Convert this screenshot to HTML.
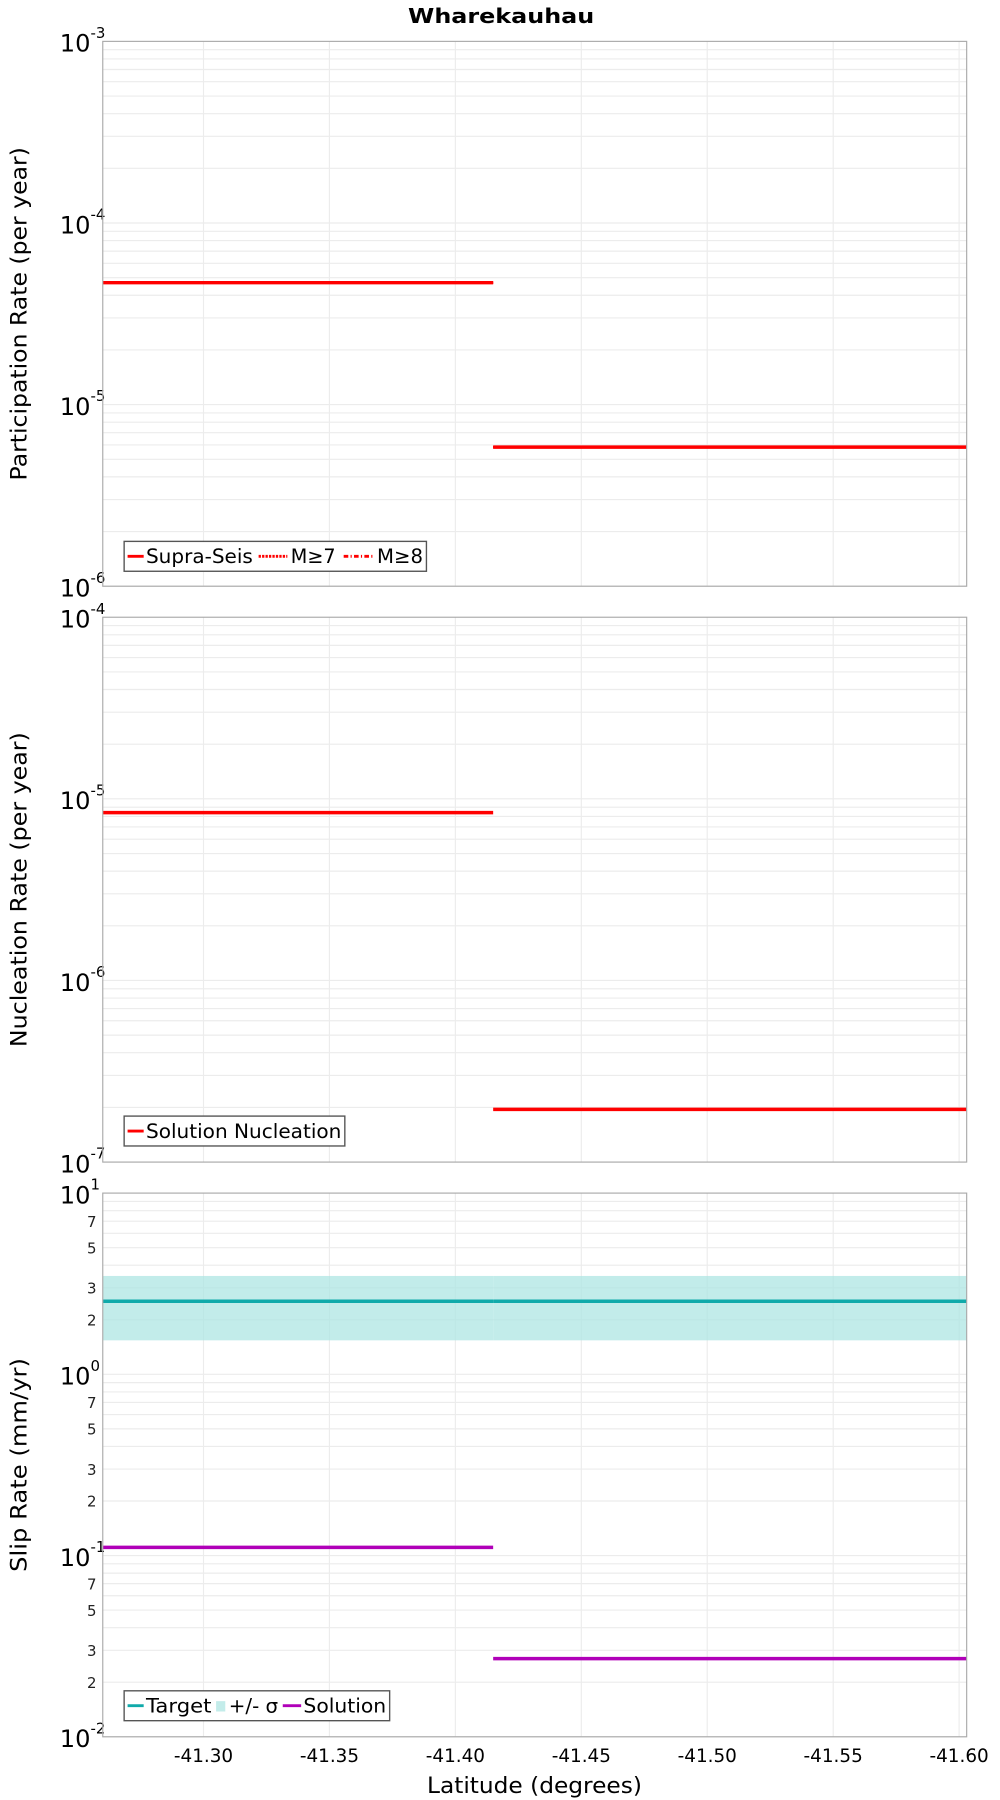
<!DOCTYPE html>
<html><head><meta charset="utf-8"><style>
html,body{margin:0;padding:0;background:#fff;}
svg{display:block;font-family:"DejaVu Sans","Liberation Sans",sans-serif;}
</style></head><body>
<svg id="chart" width="1000" height="1800" viewBox="0 0 870 1566" xmlns="http://www.w3.org/2000/svg">
<text x="436" y="20" text-anchor="middle" font-weight="bold" font-size="18" textLength="162" lengthAdjust="spacingAndGlyphs">Wharekauhau</text>
<g id="root"></g>
</svg>
<script>
// x ticks
const xTicks = [-41.30, -41.35, -41.40, -41.45, -41.50, -41.55, -41.60];
const xTickLabels = ["-41.30", "-41.35", "-41.40", "-41.45", "-41.50", "-41.55", "-41.60"];
// section boundaries (latitude)
const segStarts = [-41.26, -41.415];
const segEnds = [-41.415, -41.603];
// panel 1 participation
const suprSeis = [4.69e-5, 5.83e-6];
const m7 = [4.69e-5, 5.83e-6];
const m8 = [4.69e-5, 5.83e-6];
// panel 2 nucleation
const nucleation = [8.4e-6, 1.95e-7];
// panel 3 slip
const targetSlip = [2.53, 2.53];
const sigmaLow = [1.54, 1.54];
const sigmaHigh = [3.49, 3.49];
const solutionSlip = [0.111, 0.027];

const NS = "http://www.w3.org/2000/svg";
const root = document.getElementById('root');
const X0 = 89.4, X1 = 841, LAT0 = -41.26, LAT1 = -41.603;
function xs(v){ return X0 + (v - LAT0) / (LAT1 - LAT0) * (X1 - X0); }
function mk(tag, attrs, parent){
  const e = document.createElementNS(NS, tag);
  for (const k in attrs) e.setAttribute(k, attrs[k]);
  (parent || root).appendChild(e);
  return e;
}
function panel(name, top, bottom, eMax, eMin, title, titleLen, minorLabels){
  const g = mk('g', {});
  
  
  const ys = v => top + (eMax - Math.log10(v)) / (eMax - eMin) * (bottom - top);
  for (let e = eMin; e < eMax; e++) {
    for (let m = 1; m < 10; m++) {
      const y = ys(m * Math.pow(10, e));
      const ln = mk('line', {x1: X0, x2: X1, y1: y, y2: y, stroke: '#ececec', 'stroke-width': 1}, g);
      
      
      if (minorLabels && [2,3,5,7].includes(m)) {
        const t = mk('text', {x: 84, y: y + 5, 'text-anchor': 'end', 'font-size': 13, fill: '#222'}, g);
        t.textContent = m;
        
        
      }
    }
  }
  xTicks.forEach(v => {
    const ln = mk('line', {x1: xs(v), x2: xs(v), y1: top, y2: bottom, stroke: '#ececec', 'stroke-width': 1}, g);
    
    
  });
  for (let e = eMin; e <= eMax; e++) {
    const y = ys(Math.pow(10, e));
    const t = mk('text', {x: 52, y: y + 9, 'font-size': 21, fill: '#000'}, g);
    t.textContent = '10';
    
    
    const s = mk('tspan', {dy: -12, 'font-size': 13}, t);
    s.textContent = String(e);
  }
  const yt = mk('text', {transform: `translate(23 ${(top+bottom)/2}) rotate(-90)`, 'text-anchor': 'middle', 'font-size': 19, textLength: titleLen, lengthAdjust: 'spacingAndGlyphs'}, g);
  yt.textContent = title;
  
  
  return {g, ys};
}
function frame(g, top, bottom){
  const r = mk('rect', {x: X0, y: top, width: X1 - X0, height: bottom - top, fill: 'none', stroke: '#aaa', 'stroke-width': 1}, g);
  
  
}
function series(g, ys, vals, color, w, dash, nm){
  vals.forEach((v, i) => {
    const l = mk('line', {x1: xs(segStarts[i]), x2: xs(segEnds[i]), y1: ys(v), y2: ys(v), stroke: color, 'stroke-width': w}, g);
    if (dash) l.setAttribute('stroke-dasharray', dash);
    
    
  });
}
function legend(g, x, y, w, items){
  const r = mk('rect', {x: x, y: y, width: w, height: 26, fill: '#fff', stroke: '#555', 'stroke-width': 1.2}, g);
  
  
  items.forEach(it => {
    let sw;
    if (it.band) sw = mk('rect', {x: it.sx, y: y + 9, width: 8, height: 9, fill: '#c3ecea'}, g);
    else sw = mk('line', {x1: it.sx, x2: it.sx + it.sw, y1: y + 13, y2: y + 13, stroke: it.color, 'stroke-width': 2.5, 'stroke-dasharray': it.dash || 'none'}, g);
    
    
    const t = mk('text', {x: it.tx, y: y + 19, 'font-size': 17, textLength: it.tw, lengthAdjust: 'spacingAndGlyphs'}, g);
    t.textContent = it.label;
    
    
  });
}
// Panel 1
let p = panel('participation', 36, 510, -3, -6, 'Participation Rate (per year)', 290, false);
series(p.g, p.ys, suprSeis, '#ff0000', 3, null, 'supra-seis-line');
series(p.g, p.ys, m7, '#ff0000', 2, '2 1', 'm7-line');
series(p.g, p.ys, m8, '#ff0000', 2, '4 2 1 2', 'm8-line');
frame(p.g, 36, 510);
legend(p.g, 108, 471, 263, [
  {color:'#f00', sx:111, sw:14, label:'Supra-Seis', tx:127, tw:93},
  {color:'#f00', dash:'2 1', sx:225, sw:25, label:'M≥7', tx:253, tw:39},
  {color:'#f00', dash:'4 2 1 2', sx:299, sw:26, label:'M≥8', tx:328, tw:40}]);
// Panel 2
p = panel('nucleation', 537, 1011, -4, -7, 'Nucleation Rate (per year)', 274, false);
series(p.g, p.ys, nucleation, '#ff0000', 3, null, 'nucleation-line');
frame(p.g, 537, 1011);
legend(p.g, 108, 971, 192, [{color:'#f00', sx:111, sw:14, label:'Solution Nucleation', tx:127, tw:170}]);
// Panel 3
p = panel('slip', 1038, 1511, 1, -2, 'Slip Rate (mm/yr)', 186, true);
sigmaLow.forEach((v, i) => {
  const b = mk('rect', {x: xs(segStarts[i]), width: xs(segEnds[i]) - xs(segStarts[i]), y: p.ys(sigmaHigh[i]), height: p.ys(v) - p.ys(sigmaHigh[i]), fill: '#aee6e3', 'fill-opacity': 0.75}, p.g);
  
  
});
series(p.g, p.ys, targetSlip, '#10aaaa', 3, null, 'target-line');
series(p.g, p.ys, solutionSlip, '#b000b8', 3, null, 'solution-line');
frame(p.g, 1038, 1511);
legend(p.g, 108, 1471, 231, [
  {color:'#10aaaa', sx:111, sw:14, label:'Target', tx:127, tw:57},
  {band:true, sx:188, label:'+/- σ', tx:199, tw:43},
  {color:'#b000b8', sx:246, sw:16, label:'Solution', tx:264, tw:72}]);
// x ticks
xTicks.forEach((v, i) => {
  const t = mk('text', {x: xs(v), y: 1533, 'text-anchor': 'middle', 'font-size': 16});
  t.textContent = xTickLabels[i];
  
  
});
const xt = mk('text', {x: 465, y: 1560, 'text-anchor': 'middle', 'font-size': 19, textLength: 187, lengthAdjust: 'spacingAndGlyphs'});
xt.textContent = 'Latitude (degrees)';


</script>
</body></html>
